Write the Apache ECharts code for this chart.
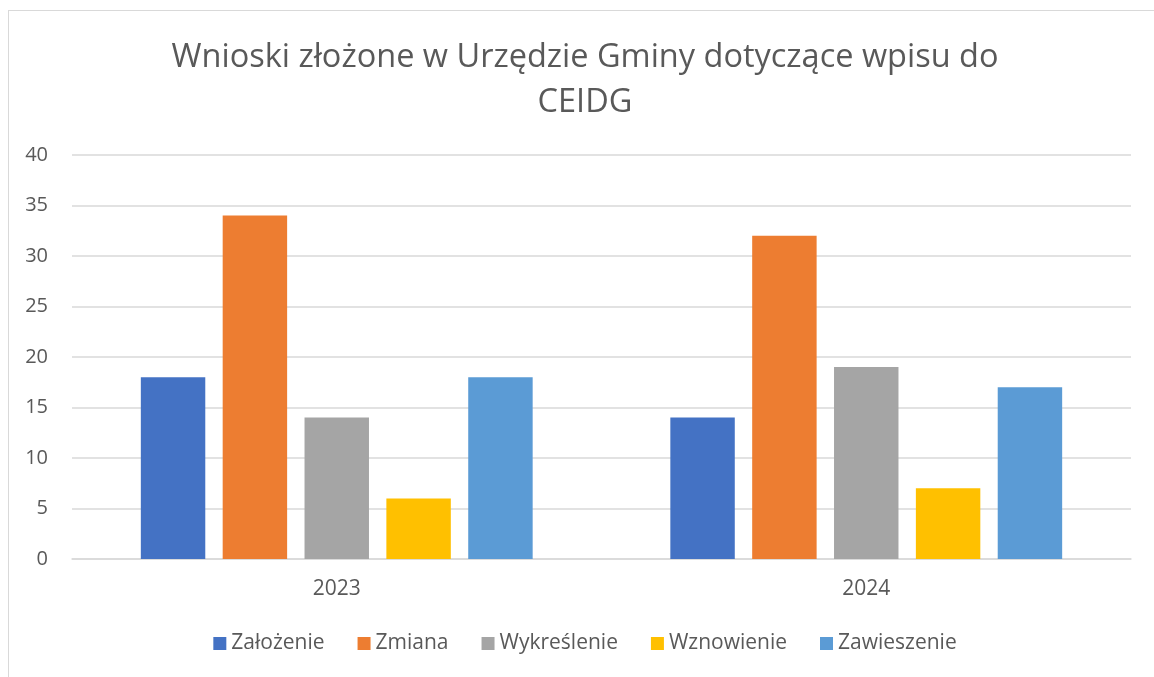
<!DOCTYPE html>
<html>
<head>
<meta charset="utf-8">
<script src="https://cdn.jsdelivr.net/npm/echarts@6/dist/echarts.min.js"></script>
<style>
  html, body { margin: 0; padding: 0; background: #fff; overflow: hidden; }
  #frame { position: absolute; left: 8px; top: 10px; width: 1160px; height: 680px; border: 1px solid #d9d9d9; box-sizing: border-box; }
  #chart { position: absolute; left: 8px; top: 0; width: 1154px; height: 677px; }
</style>
</head>
<body>
<div id="frame"></div>
<div id="chart"></div>
<script>
const titleText = 'Wnioski złożone w Urzędzie Gminy dotyczące wpisu do\nCEIDG';
const years = ['2023', '2024'];
const seriesNames = ['Założenie', 'Zmiana', 'Wykreślenie', 'Wznowienie', 'Zawieszenie'];
const zalozenie = [18, 14];
const zmiana = [34, 32];
const wykreslenie = [14, 19];
const wznowienie = [6, 7];
const zawieszenie = [18, 17];
const colors = ['#4472C4', '#ED7D31', '#A5A5A5', '#FFC000', '#5B9BD5'];

const values = [zalozenie, zmiana, wykreslenie, wznowienie, zawieszenie];
const font = '"Open Sans", "Noto Sans", sans-serif';

const chart = echarts.init(document.getElementById('chart'), null, { renderer: 'canvas' });
chart.setOption({
  animation: false,
  color: colors,
  textStyle: { fontFamily: font },
  title: {
    text: titleText,
    left: 'center',
    top: 30,
    textStyle: { fontFamily: font, fontSize: 32.5, fontWeight: 'normal', color: '#595959', lineHeight: 45 }
  },
  legend: {
    bottom: 18,
    left: 'center',
    itemWidth: 13,
    itemHeight: 13,
    itemGap: 33,
    icon: 'rect',
    textStyle: { fontFamily: font, fontSize: 21, color: '#595959' },
    data: seriesNames
  },
  grid: { left: 64, right: 31, top: 155, bottom: 118 },
  xAxis: {
    type: 'category',
    data: years,
    axisLine: { lineStyle: { color: '#d9d9d9', width: 1.5 } },
    axisTick: { show: false },
    axisLabel: { fontFamily: font, fontSize: 21, color: '#595959', margin: 20 }
  },
  yAxis: {
    type: 'value',
    min: 0, max: 40, interval: 5,
    axisLine: { show: false },
    axisTick: { show: false },
    splitLine: { lineStyle: { color: '#d9d9d9', width: 1.5 } },
    axisLabel: { fontFamily: font, fontSize: 20, color: '#595959', margin: 24 }
  },
  series: seriesNames.map((name, i) => ({
    name,
    type: 'bar',
    data: values[i],
    barGap: '27%',
    barCategoryGap: '26%'
  }))
});
</script>
</body>
</html>
